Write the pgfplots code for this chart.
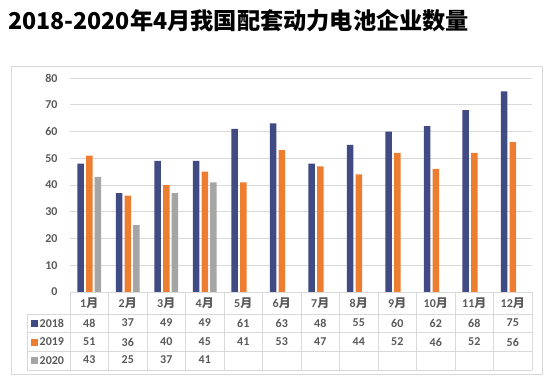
\documentclass[border=0pt]{standalone}
\usepackage{pgfplots}
\pgfplotsset{compat=1.18}
\usepackage{pgfplotstable}
\usepackage{fontspec}
\setmainfont{Carlito}
\newfontfamily\cjk{Noto Sans CJK SC}
\definecolor{c18}{RGB}{64,74,131}
\definecolor{c19}{RGB}{237,125,49}
\definecolor{c20}{RGB}{165,165,165}
\definecolor{txt}{RGB}{89,89,89}
\definecolor{gridc}{RGB}{217,217,217}
\newcommand{\yue}{{\cjk\bfseries 月}}
\pgfplotstableread{
x y18 y19 y20
1 48 51 43
2 37 36 25
3 49 40 37
4 49 45 41
5 61 41 nan
6 63 53 nan
7 48 47 nan
8 55 44 nan
9 60 52 nan
10 62 46 nan
11 68 52 nan
12 75 56 nan
}\data
\begin{document}
\begin{tikzpicture}[x=1pt,y=1pt]
\useasboundingbox (0,0) rectangle (554,-384);
\draw[gridc, line width=0.8pt] (11,-66) rectangle (542,-374);
\node[anchor=base west, font=\cjk\bfseries\fontsize{23.2}{26}\selectfont, text=black, inner sep=0] at (8,-29) {2018-2020年4月我国配套动力电池企业数量};
\begin{axis}[
  at={(70pt,-292pt)}, anchor=south west,
  scale only axis, width=462pt, height=214pt,
  xmin=0.5, xmax=12.5, ymin=0, ymax=80,
  /pgf/number format/assume math mode=true,
  ytick={0,10,...,80},
  xtick={1,...,12},
  xticklabels={1\yue,2\yue,3\yue,4\yue,5\yue,6\yue,7\yue,8\yue,9\yue,10\yue,11\yue,12\yue},
  major tick length=0pt,
  axis line style={draw=none},
  ymajorgrids, grid style={gridc, line width=0.6pt},
  clip=false,
  yticklabel style={font=\bfseries\fontsize{12}{14}\selectfont, text=txt, xshift=-9pt},
  xticklabel style={font=\bfseries\fontsize{12}{14}\selectfont, text=txt, anchor=center, yshift=-11pt},
  nodes near coords style={font=\bfseries\fontsize{12}{14}\selectfont, text=txt, anchor=center},
]
\addplot[ybar, bar width=6.5pt, bar shift=-8.7pt, fill=c18, draw=none] table[x=x, y=y18] {\data};
\addplot[ybar, bar width=6.5pt, bar shift=0pt, fill=c19, draw=none] table[x=x, y=y19] {\data};
\addplot[ybar, bar width=6.5pt, bar shift=8.7pt, fill=c20, draw=none] table[x=x, y=y20] {\data};
\addplot[draw=none, mark=none, nodes near coords, point meta=explicit, nodes near coords align=center] table[x=x, y expr=-11.59, meta=y18] {\data};
\addplot[draw=none, mark=none, nodes near coords, point meta=explicit, nodes near coords align=center] table[x=x, y expr=-18.69, meta=y19] {\data};
\addplot[draw=none, mark=none, nodes near coords, point meta=explicit, nodes near coords align=center, restrict x to domain=1:4] table[x=x, y expr=-25.42, meta=y20] {\data};
\end{axis}
\begin{scope}[gridc, line width=0.6pt]
\draw (70,-292) -- (532,-292);
\foreach \yy in {314,332,351,370} \draw (27,-\yy) -- (532,-\yy);
\draw (27,-314) -- (27,-370);
\foreach \k in {0,...,12} \draw ({70+38.5*\k},-292) -- ({70+38.5*\k},-370);
\end{scope}
\fill[c18] (31,-319.5) rectangle (38,-326.5);
\fill[c19] (31,-338.5) rectangle (38,-345.5);
\fill[c20] (31,-357) rectangle (38,-364);
\begin{scope}[every node/.style={anchor=west, inner sep=0, text=txt, font=\bfseries\fontsize{12}{14}\selectfont}]
\node at (39.5,-323) {2018};
\node at (39.5,-342) {2019};
\node at (39.5,-360.5) {2020};
\end{scope}
\end{tikzpicture}
\end{document}
